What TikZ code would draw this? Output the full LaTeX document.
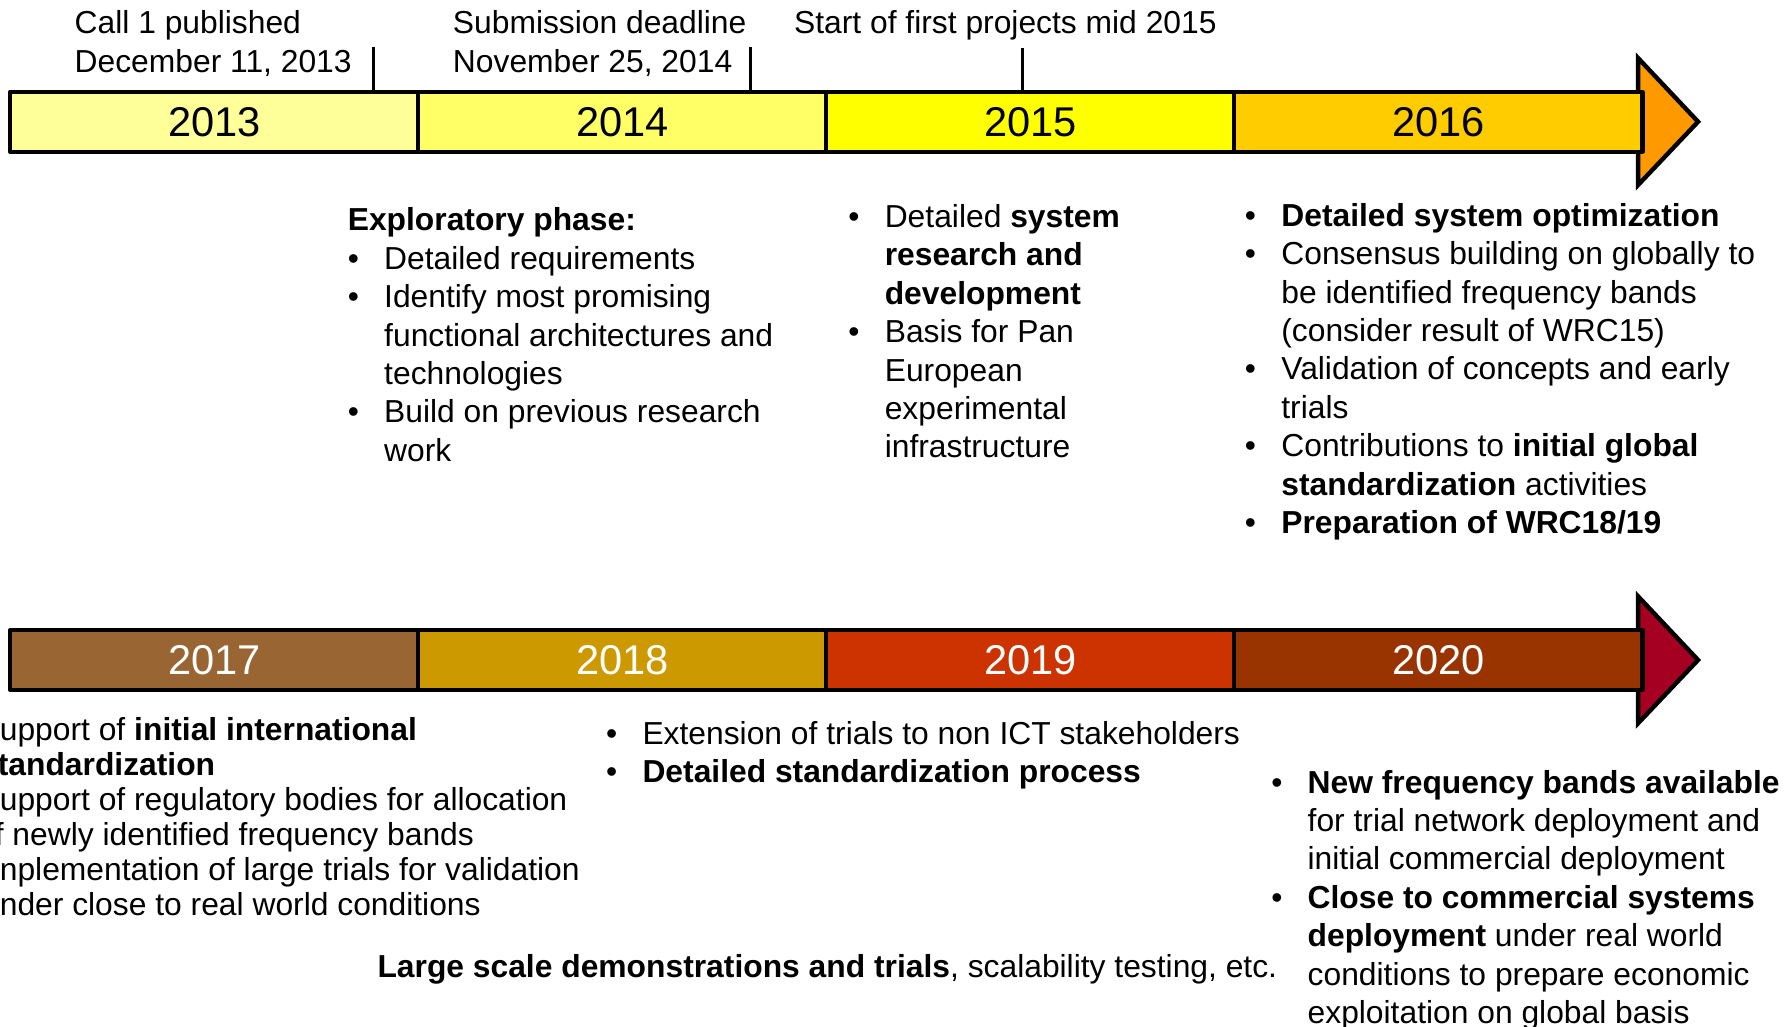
\documentclass[tikz,border=0pt]{standalone}
\usepackage{fontspec}
\setmainfont{Liberation Sans}
\definecolor{cA}{HTML}{FFFF99}
\definecolor{cB}{HTML}{FFFF66}
\definecolor{cC}{HTML}{FFFF00}
\definecolor{cD}{HTML}{FFCC00}
\definecolor{cE}{HTML}{FF9900}
\definecolor{cF}{HTML}{996633}
\definecolor{cG}{HTML}{CC9900}
\definecolor{cH}{HTML}{CC3300}
\definecolor{cI}{HTML}{993300}
\definecolor{cJ}{HTML}{A50021}
\newlength\bind
\setlength\bind{18.2pt}
\newcommand\itm{\par\noindent\hangindent=\bind\hangafter=1\makebox[\bind][l]{\textbullet}}
\newcommand\txtfont{\fontsize{15.9}{19.2}\selectfont\parskip=0pt\parindent=0pt}
\newcommand\blocktext[1]{\parbox[t]{440pt}{\txtfont #1}}
\begin{document}
\begin{tikzpicture}[x=0.571428pt,y=-0.571428pt,
  seg/.style={draw=black, line width=2.2pt, line join=round, inner sep=0pt,
    minimum width=204pt, minimum height=30pt, font=\fontsize{20.8}{24}\selectfont},
  headshape/.style={draw=black, line width=2.2pt, line join=miter},
  tickline/.style={line width=1.4pt},
  blk/.style={anchor=base west, inner sep=0pt}]
\useasboundingbox (0,0) rectangle (1568,898);

% ---------- top timeline ----------
\draw[headshape, fill=cE] (1433.3,50.8) -- (1485.8,106.5) -- (1433.3,161.9) -- cycle;
\node[seg, fill=cA] (y2013) at (187.5,106.5) {2013};
\node[seg, fill=cB] (y2014) at (544.5,106.5) {2014};
\node[seg, fill=cC] (y2015) at (901.5,106.5) {2015};
\node[seg, fill=cD] (y2016) at (1258.5,106.5) {2016};

\node[blk] (call) at (65,29.5) {\blocktext{Call 1 published\newline December 11, 2013}};
\node[blk] (subm) at (396,29.5) {\blocktext{Submission deadline\newline November 25, 2014}};
\node[blk] (start) at (694.5,29.5) {\blocktext{Start of first projects mid 2015}};

\coordinate (t1) at (327,41);
\coordinate (t2) at (657,41);
\coordinate (t3) at (895,42);
\draw[tickline] (t1) -- (t1 |- y2013.north);
\draw[tickline] (t2) -- (t2 |- y2014.north);
\draw[tickline] (t3) -- (t3 |- y2015.north);

\node[blk] (expl) at (304,202) {\blocktext{%
\noindent\textbf{Exploratory phase:}
\itm Detailed requirements
\itm Identify most promising\newline functional architectures and\newline technologies
\itm Build on previous research\newline work}};

\node[blk] (sys) at (742,199) {\blocktext{%
\itm Detailed \textbf{system\newline research and\newline development}
\itm Basis for Pan\newline European\newline experimental\newline infrastructure}};

\node[blk] (opt) at (1089,198) {\blocktext{%
\itm \textbf{Detailed system optimization}
\itm Consensus building on globally to\newline be identified frequency bands\newline (consider result of WRC15)
\itm Validation of concepts and early\newline trials
\itm Contributions to \textbf{initial global\newline standardization} activities
\itm \textbf{Preparation of WRC18/19}}};

% ---------- bottom timeline ----------
\draw[headshape, fill=cJ] (1433.3,521.8) -- (1485.8,577.5) -- (1433.3,632.9) -- cycle;
\node[seg, fill=cF, text=white] (y2017) at (187.5,577.5) {2017};
\node[seg, fill=cG, text=white] (y2018) at (544.5,577.5) {2018};
\node[seg, fill=cH, text=white] (y2019) at (901.5,577.5) {2019};
\node[seg, fill=cI, text=white] (y2020) at (1258.5,577.5) {2020};

\node[blk] (intl) at (-0.5,647.5) {\parbox[t]{440pt}{\fontsize{15.9}{17.5}\selectfont\parindent=0pt
upport of \textbf{initial international}\newline
\hspace*{-1pt}\textbf{tandardization}\newline
upport of regulatory bodies for allocation\newline
\hspace*{-2.5pt}f newly identified frequency bands\newline
nplementation of large trials for validation\newline
nder close to real world conditions}};

\node[blk] (ext) at (530,651) {\blocktext{%
\itm Extension of trials to non ICT stakeholders
\itm \textbf{Detailed standardization process}}};

\node[blk] (large) at (330,855) {\txtfont\textbf{Large scale demonstrations and trials}, scalability testing, etc.};

\node[blk] (newf) at (1112,694) {\blocktext{%
\itm \textbf{New frequency bands available}\newline for trial network deployment and\newline initial commercial deployment
\itm \textbf{Close to commercial systems\newline deployment} under real world\newline conditions to prepare economic\newline exploitation on global basis}};
\end{tikzpicture}
\end{document}
